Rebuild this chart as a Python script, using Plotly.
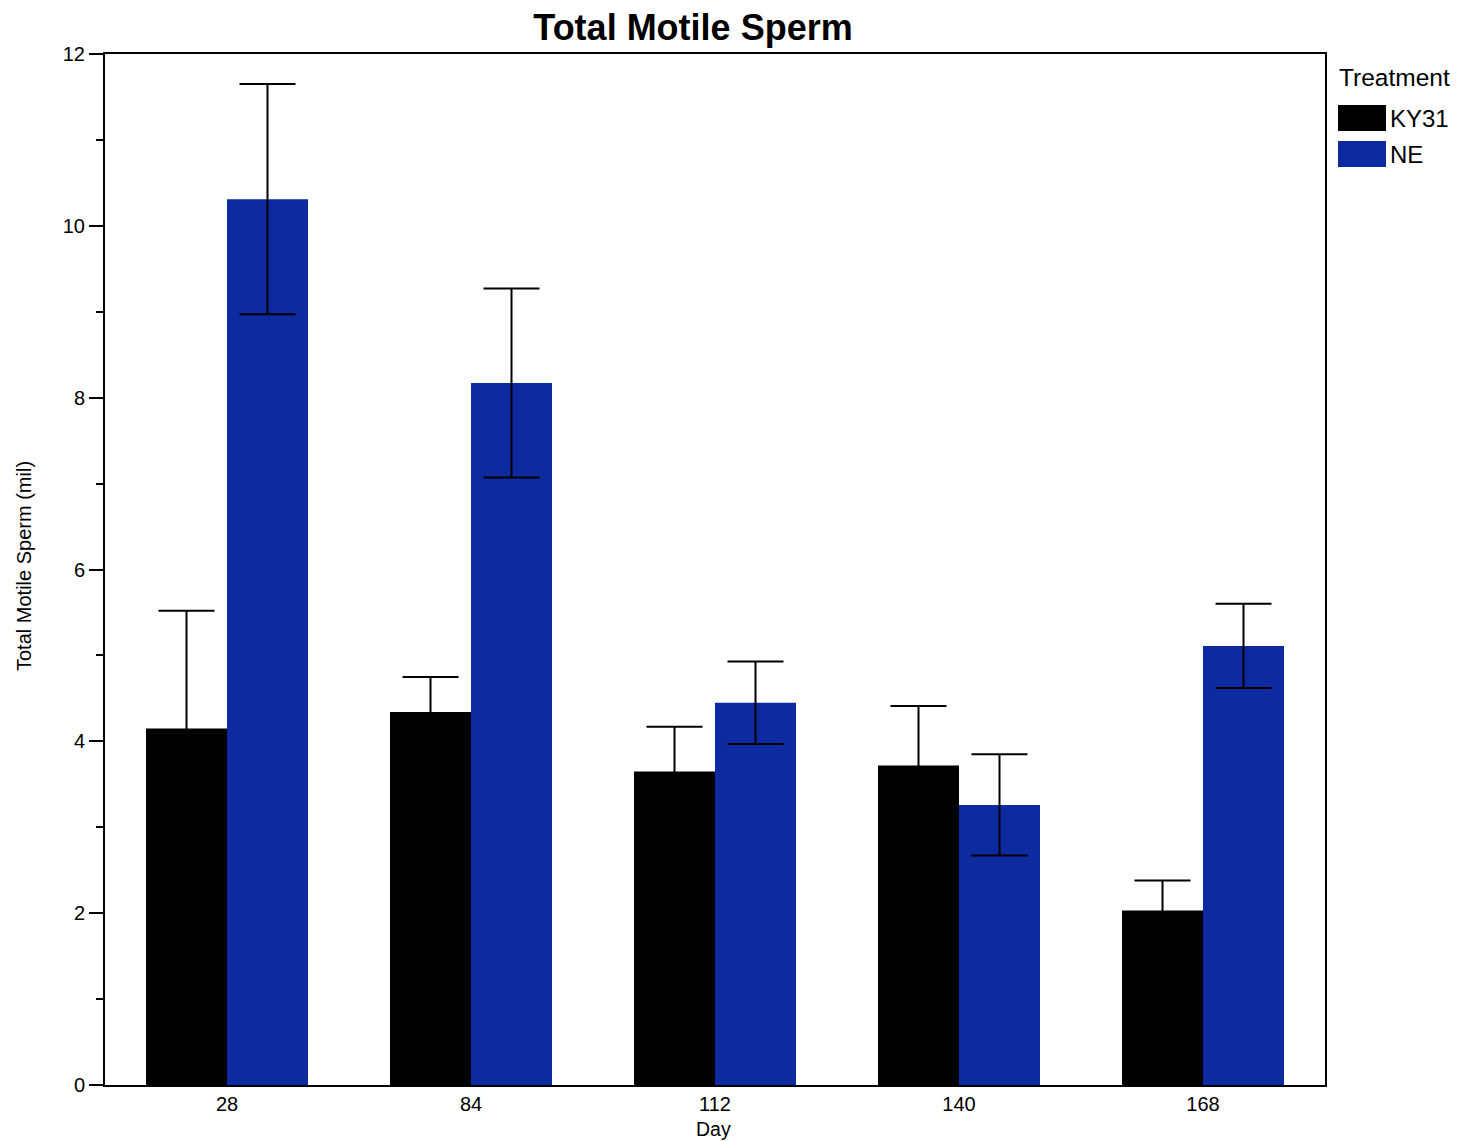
import plotly.graph_objects as go

# Mean total motile sperm (millions) per treatment and sampling day, with SE
days = ["28", "84", "112", "140", "168"]
ky31_mean = [4.15, 4.34, 3.65, 3.72, 2.03]
ky31_err = [1.37, 0.41, 0.52, 0.69, 0.35]
ne_mean = [10.31, 8.17, 4.45, 3.26, 5.11]
ne_err = [1.34, 1.10, 0.48, 0.59, 0.49]

KY31_COLOR = "#000000"
NE_COLOR = "#0D2A9E"
FONT = "Liberation Sans, Arial, Helvetica, sans-serif"

err_style = dict(type="data", visible=True, color="black", thickness=2, width=28)

fig = go.Figure()
fig.add_trace(go.Bar(
    x=days, y=ky31_mean, name="KY31", marker=dict(color=KY31_COLOR, line=dict(width=0)),
    error_y=dict(array=ky31_err, **err_style), showlegend=False,
))
fig.add_trace(go.Bar(
    x=days, y=ne_mean, name="NE", marker=dict(color=NE_COLOR, line=dict(width=0)),
    error_y=dict(array=ne_err, **err_style), showlegend=False,
))

# Legend drawn as swatches + labels to the right of the plot area
legend_items = [("KY31", KY31_COLOR), ("NE", NE_COLOR)]
W, H = 1461, 1141
ml, mr, mt, mb = 105, 136, 54, 56
pw, ph = W - ml - mr, H - mt - mb

def px_to_paper(x, y):
    return (x - ml) / pw, 1 - (y - mt) / ph

shapes = []
annotations = []
tx, ty = px_to_paper(1337, 78)
annotations.append(dict(x=tx, y=ty, xref="paper", yref="paper", text="Treatment",
                        showarrow=False, xanchor="left", yanchor="middle",
                        font=dict(family=FONT, size=24.5, color="black")))
for i, (label, color) in enumerate(legend_items):
    top = 105 + i * 36
    x0, y1 = px_to_paper(1338, top)
    x1, y0 = px_to_paper(1386, top + 26)
    shapes.append(dict(type="rect", xref="paper", yref="paper", x0=x0, x1=x1, y0=y0, y1=y1,
                       fillcolor=color, line=dict(width=0)))
    lx, ly = px_to_paper(1388, top + 13)
    annotations.append(dict(x=lx, y=ly, xref="paper", yref="paper", text=label,
                            showarrow=False, xanchor="left", yanchor="middle",
                            font=dict(family=FONT, size=24, color="black")))

# Axis titles placed as annotations at fixed pixel positions
ax_x, ax_y = px_to_paper(713, 1129)
annotations.append(dict(x=ax_x, y=ax_y, xref="paper", yref="paper", text="Day",
                        showarrow=False, xanchor="center", yanchor="middle",
                        font=dict(family=FONT, size=19.5, color="black")))
ay_x, ay_y = px_to_paper(24, 566)
annotations.append(dict(x=ay_x, y=ay_y, xref="paper", yref="paper", text="Total Motile Sperm (mil)",
                        showarrow=False, xanchor="center", yanchor="middle", textangle=-90,
                        font=dict(family=FONT, size=20, color="black")))

fig.update_layout(
    width=W, height=H,
    margin=dict(l=ml, r=mr, t=mt, b=mb, autoexpand=False),
    paper_bgcolor="white", plot_bgcolor="white",
    barmode="group", bargap=0.336, bargroupgap=0,
    font=dict(family=FONT, size=20, color="black"),
    title=dict(text="<b>Total Motile Sperm</b>", x=693 / W, xanchor="center",
               y=1 - 27 / H, yanchor="middle", font=dict(family=FONT, size=36, color="black")),
    shapes=shapes, annotations=annotations,
)

fig.update_xaxes(
    type="category", showline=True, linecolor="black", linewidth=2, mirror=True,
    ticks="", showgrid=False, automargin=False, tickfont=dict(size=20),
)
fig.update_yaxes(
    range=[0, 12], dtick=2, showline=True, linecolor="black", linewidth=2, mirror=True,
    ticks="outside", ticklen=14, tickwidth=2, tickcolor="black",
    minor=dict(dtick=1, ticks="outside", ticklen=7, tickwidth=2, tickcolor="black", showgrid=False),
    showgrid=False, zeroline=False, automargin=False, tickfont=dict(size=20),
)

fig.write_html("out.html")
